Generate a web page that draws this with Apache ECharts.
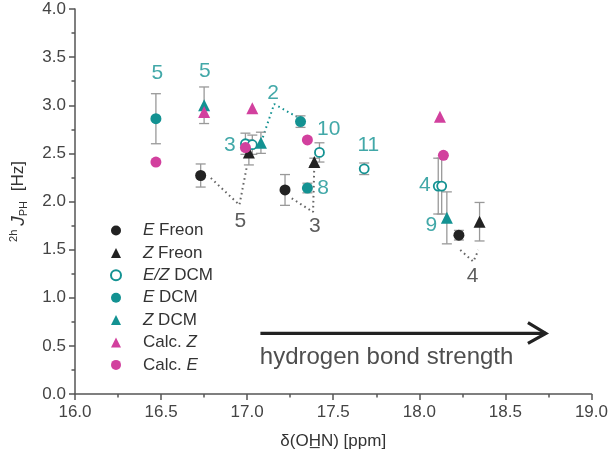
<!DOCTYPE html>
<html><head><meta charset="utf-8">
<script src="https://cdn.jsdelivr.net/npm/echarts@6/dist/echarts.min.js"></script>
<style>html,body{margin:0;padding:0;background:#fff}#c{width:611px;height:458px}</style>
</head><body><div id="c"></div>
<script>
// [x (ppm), y (Hz), error]
const eFreon = [[16.73,2.27,0.12],[17.22,2.12,0.16],[18.23,1.65,0.05]];
const zFreon = [[17.01,2.51,0.13],[17.39,2.41,0.04],[18.35,1.79,0.2]];
const ezDCM  = [[16.99,2.60,0.11],[17.03,2.59,0.10],[17.42,2.51,0.10],[17.68,2.34,0.06],[18.11,2.16,0.29],[18.13,2.16,0.29]];
const eDCM   = [[16.47,2.86,0.26],[17.31,2.83,0.06],[17.35,2.14,0.05]];
const zDCM   = [[16.75,3.00,0.19],[17.08,2.61,0.11],[18.16,1.83,0.27]];
const calcZ  = [[16.75,2.93],[17.03,2.97],[18.12,2.88]];
const calcE  = [[16.47,2.41],[16.99,2.56],[17.35,2.64],[18.14,2.48]];

const xMin = 16.0, xMax = 19.0, xStep = 0.5;
const yMin = 0.0, yMax = 4.0, yStep = 0.5;

// compound number annotations
const tealLabels = [[16.478,3.33,'5'],[16.754,3.35,'5'],[16.90,2.59,'3'],[17.15,3.12,'2'],[17.474,2.75,'10'],[17.704,2.59,'11'],[17.441,2.137,'8'],[18.032,2.17,'4'],[18.07,1.756,'9']];
const blackLabels = [[16.96,1.80,'5'],[17.393,1.74,'3'],[18.31,1.226,'4']];
const blackConnectors = [
  [[16.789,2.244],[16.955,1.964],[17.0,2.38]],
  [[17.259,2.033],[17.383,1.89],[17.39,2.38]],
  [[18.238,1.496],[18.314,1.375],[18.343,1.496]]
];
const tealConnectors = [
  [[17.29,2.878],[17.157,3.013],[17.088,2.65]]
];
const arrowShaft = [[17.077,0.63],[18.735,0.63]];
const arrowHead = [[18.631,0.742],[18.735,0.63],[18.631,0.527]];
const arrowText = [[17.81,0.385,'hydrogen bond strength']];

const FONT = '"Liberation Sans", Arial, sans-serif';
const BLACK = '#222222', TEAL = '#139292', MAG = '#d2409e', GRAY = '#999999';

const errData = [].concat(eFreon, zFreon, ezDCM, eDCM, zDCM);

const legendRich = {
  'E Freon': '{i|E} Freon',
  'Z Freon': '{i|Z} Freon',
  'E/Z DCM': '{i|E/Z} DCM',
  'E DCM': '{i|E} DCM',
  'Z DCM': '{i|Z} DCM',
  'Calc. Z': 'Calc. {i|Z}',
  'Calc. E': 'Calc. {i|E}'
};

const chart = echarts.init(document.getElementById('c'), null, {renderer:'canvas'});

function lineSeries(pts, color) {
  return {type:'line', data: pts, symbol:'none', silent:true, z:1,
    lineStyle:{color: color, width:2, type:[1.6,3.4]}, animation:false};
}

const series = [
  {type:'custom', name:'err', z:2, silent:true,
    renderItem: function(params, api){
      const x = api.value(0), y = api.value(1), e = api.value(2);
      const t = api.coord([x, y+e]), b = api.coord([x, y-e]);
      const w = 5, st = {stroke: GRAY, lineWidth: 1.3};
      return {type:'group', children:[
        {type:'line', shape:{x1:t[0],y1:t[1],x2:b[0],y2:b[1]}, style:st},
        {type:'line', shape:{x1:t[0]-w,y1:t[1],x2:t[0]+w,y2:t[1]}, style:st},
        {type:'line', shape:{x1:b[0]-w,y1:b[1],x2:b[0]+w,y2:b[1]}, style:st}
      ]};
    },
    encode:{x:0,y:1}, data: errData},
  {type:'scatter', name:'E DCM', data:eDCM, symbol:'circle', symbolSize:11, z:3, itemStyle:{color:TEAL, opacity:1}},
  {type:'scatter', name:'Z DCM', data:zDCM, symbol:'triangle', symbolSize:12, z:3, itemStyle:{color:TEAL, opacity:1}},
  {type:'scatter', name:'E/Z DCM', data:ezDCM, symbol:'circle', symbolSize:9, z:4, itemStyle:{color:'#fff', borderColor:TEAL, borderWidth:1.8, opacity:1}},
  {type:'scatter', name:'E Freon', data:eFreon, symbol:'circle', symbolSize:11, z:4, itemStyle:{color:BLACK, opacity:1}},
  {type:'scatter', name:'Z Freon', data:zFreon, symbol:'triangle', symbolSize:12, z:4, itemStyle:{color:BLACK, opacity:1}},
  {type:'scatter', name:'Calc. Z', data:calcZ, symbol:'triangle', symbolSize:12, z:5, itemStyle:{color:MAG, opacity:1}},
  {type:'scatter', name:'Calc. E', data:calcE, symbol:'circle', symbolSize:11, z:5, itemStyle:{color:MAG, opacity:1}},
  {type:'scatter', name:'tealLabels', data:tealLabels, symbolSize:0, silent:true, z:6,
    label:{show:true, position:'inside', formatter:p=>p.value[2], color:TEAL, fontSize:21, fontFamily:FONT}},
  {type:'scatter', name:'blackLabels', data:blackLabels, symbolSize:0, silent:true, z:6,
    label:{show:true, position:'inside', formatter:p=>p.value[2], color:'#333', fontSize:21, fontFamily:FONT}},
  {type:'scatter', name:'arrowText', data:arrowText, symbolSize:0, silent:true, z:6,
    label:{show:true, position:'inside', formatter:p=>p.value[2], color:'#222', fontSize:24, fontFamily:FONT}},
  {type:'line', name:'arrowShaft', data:arrowShaft, symbol:'none', silent:true, z:6, lineStyle:{color:'#222', width:3.2, cap:'butt'}},
  {type:'line', name:'arrowHead', data:arrowHead, symbol:'none', silent:true, z:6, lineStyle:{color:'#222', width:3.2, join:'miter', cap:'butt'}}
];
blackConnectors.forEach(c => series.push(lineSeries(c, '#666')));
tealConnectors.forEach(c => series.push(lineSeries(c, TEAL)));

chart.setOption({
  animation:false,
  backgroundColor:'#fff',
  grid:{left:73, right:17, top:9, bottom:64, containLabel:false},
  legend:{
    data:['E Freon','Z Freon','E/Z DCM','E DCM','Z DCM','Calc. Z','Calc. E'],
    orient:'vertical', left:105, top:217, itemWidth:10, itemHeight:10, itemGap:5.4,
    selectedMode:false,
    formatter: n => legendRich[n],
    textStyle:{fontSize:17, fontFamily:FONT, color:'#333', lineHeight:16, padding:[0,0,0,17],
      rich:{i:{fontStyle:'italic', fontSize:17, fontFamily:FONT, color:'#333', lineHeight:16}}}
  },
  xAxis:{type:'value', min:xMin, max:xMax, interval:xStep,
    name:'δ(OH\u0332N) [ppm]', nameLocation:'middle', nameGap:39,
    nameTextStyle:{fontSize:17, fontFamily:FONT, color:'#333'},
    axisLine:{show:true, onZero:false, lineStyle:{color:'#555', width:1.5}},
    axisTick:{show:true, length:6, lineStyle:{color:'#555', width:1.5}},
    minorTick:{show:true, splitNumber:2, length:3.5, lineStyle:{color:'#555', width:1.5}},
    splitLine:{show:false},
    axisLabel:{fontSize:17, fontFamily:FONT, color:'#444', margin:10, formatter:v=>v.toFixed(1)}},
  yAxis:{type:'value', min:yMin, max:yMax, interval:yStep,
    name:'{sup|2h}{i|J}{sub|PH} [Hz]', nameLocation:'middle', nameGap:46,
    nameTextStyle:{fontSize:17, fontFamily:FONT, color:'#333',
      rich:{
        sup:{fontSize:11, fontFamily:FONT, color:'#333', verticalAlign:'top', padding:[0,4,8,0]},
        i:{fontSize:19, fontStyle:'italic', fontFamily:FONT, color:'#333'},
        sub:{fontSize:11, fontFamily:FONT, color:'#333', padding:[10,5,0,0]}
      }},
    axisLine:{show:true, onZero:false, lineStyle:{color:'#555', width:1.5}},
    axisTick:{show:true, length:6, lineStyle:{color:'#555', width:1.5}},
    minorTick:{show:true, splitNumber:2, length:3.5, lineStyle:{color:'#555', width:1.5}},
    splitLine:{show:false},
    axisLabel:{fontSize:17, fontFamily:FONT, color:'#444', margin:9, formatter:v=>v.toFixed(1)}},
  series: series
});
</script></body></html>
